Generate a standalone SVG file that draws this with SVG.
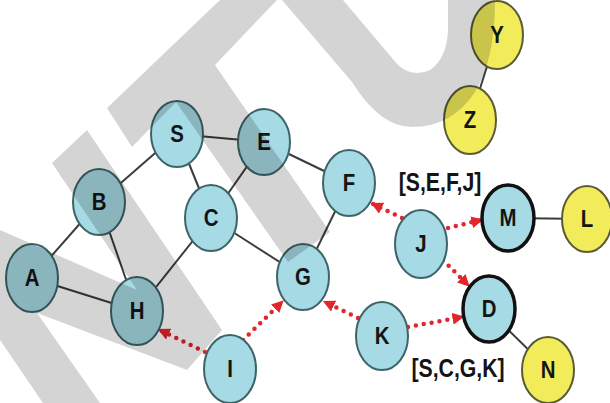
<svg xmlns="http://www.w3.org/2000/svg" width="610" height="403" viewBox="0 0 610 403">
<style>
.edge{stroke:#3c3c3c;stroke-width:2;fill:none}
.arr{stroke:#e3262b;stroke-width:4.5;stroke-linecap:round;stroke-dasharray:0 8;fill:none;marker-end:url(#ah)}
.nb ellipse{fill:#a6dae4;stroke:#3d6468;stroke-width:2}
.nk ellipse{fill:#a6dae4;stroke:#111;stroke-width:3.5}
.ny ellipse{fill:#f2ec5a;stroke:#5a5a38;stroke-width:2}
text{font-family:"Liberation Sans",Arial,sans-serif;font-weight:bold;fill:#141414;text-anchor:middle}
.lbl{font-size:24px}
.path{font-size:25px}
</style>
<defs>
<marker id="ah" viewBox="0 0 10 10" refX="8" refY="5" markerWidth="12" markerHeight="12" markerUnits="userSpaceOnUse" orient="auto">
<path d="M0,0 L10,5 L0,10 z" fill="#e3262b"/>
</marker>
</defs>
<rect width="610" height="403" fill="#fff"/>
<g id="connectors">
<line class="edge" x1="177" y1="134" x2="264" y2="142"/>
<line class="edge" x1="177" y1="134" x2="99" y2="202"/>
<line class="edge" x1="177" y1="134" x2="211" y2="218"/>
<line class="edge" x1="264" y1="142" x2="211" y2="218"/>
<line class="edge" x1="264" y1="142" x2="349" y2="183"/>
<line class="edge" x1="99" y1="202" x2="32" y2="278"/>
<line class="edge" x1="99" y1="202" x2="137" y2="311"/>
<line class="edge" x1="32" y1="278" x2="137" y2="311"/>
<line class="edge" x1="137" y1="311" x2="211" y2="218"/>
<line class="edge" x1="211" y1="218" x2="303" y2="277"/>
<line class="edge" x1="303" y1="277" x2="349" y2="183"/>
<line class="edge" x1="497" y1="35" x2="470" y2="120"/>
<line class="edge" x1="507" y1="218" x2="587" y2="219"/>
<line class="edge" x1="488" y1="310" x2="548" y2="369"/>
<path class="arr" d="M402,218 L373,204"/>
<path class="arr" d="M448,228 L481,220"/>
<path class="arr" d="M443,260 L468,285"/>
<path class="arr" d="M205,352 L160,330"/>
<path class="arr" d="M243,340 L282,302"/>
<path class="arr" d="M358,318 L325,302"/>
<path class="arr" d="M408,327 L462,317"/>
</g>
<g id="node-S" class="nb"><ellipse cx="177" cy="134" rx="26" ry="33"/><text class="lbl" transform="translate(177,142) scale(0.85,1)">S</text></g>
<g id="node-E" class="nb"><ellipse cx="264" cy="142" rx="26" ry="33"/><text class="lbl" transform="translate(264,150) scale(0.85,1)">E</text></g>
<g id="node-B" class="nb"><ellipse cx="99" cy="202" rx="26" ry="33"/><text class="lbl" transform="translate(99,210) scale(0.85,1)">B</text></g>
<g id="node-A" class="nb"><ellipse cx="32" cy="278" rx="26" ry="34"/><text class="lbl" transform="translate(32,286) scale(0.85,1)">A</text></g>
<g id="node-H" class="nb"><ellipse cx="137" cy="311" rx="26" ry="34"/><text class="lbl" transform="translate(137,319) scale(0.85,1)">H</text></g>
<g id="node-C" class="nb"><ellipse cx="211" cy="218" rx="26" ry="33"/><text class="lbl" transform="translate(211,226) scale(0.85,1)">C</text></g>
<g id="node-G" class="nb"><ellipse cx="303" cy="277" rx="26" ry="33"/><text class="lbl" transform="translate(303,285) scale(0.85,1)">G</text></g>
<g id="node-F" class="nb"><ellipse cx="349" cy="183" rx="26" ry="33"/><text class="lbl" transform="translate(349,191) scale(0.85,1)">F</text></g>
<g id="node-I" class="nb"><ellipse cx="230" cy="369" rx="26" ry="34"/><text class="lbl" transform="translate(230,377) scale(0.85,1)">I</text></g>
<g id="node-J" class="nb"><ellipse cx="421" cy="244" rx="26" ry="34"/><text class="lbl" transform="translate(421,252) scale(0.85,1)">J</text></g>
<g id="node-K" class="nb"><ellipse cx="382" cy="336" rx="26" ry="34"/><text class="lbl" transform="translate(382,344) scale(0.85,1)">K</text></g>
<g id="node-D" class="nk"><ellipse cx="489" cy="309" rx="26" ry="33"/><text class="lbl" transform="translate(489,317) scale(0.85,1)">D</text></g>
<g id="node-M" class="nk"><ellipse cx="508" cy="218" rx="26" ry="33"/><text class="lbl" transform="translate(508,226) scale(0.85,1)">M</text></g>
<g id="node-L" class="ny"><ellipse cx="587" cy="219" rx="25" ry="33"/><text class="lbl" transform="translate(587,227) scale(0.85,1)">L</text></g>
<g id="node-N" class="ny"><ellipse cx="548" cy="370" rx="26" ry="33"/><text class="lbl" transform="translate(548,378) scale(0.85,1)">N</text></g>
<g id="node-Y" class="ny"><ellipse cx="497" cy="35" rx="26" ry="34"/><text class="lbl" transform="translate(497,43) scale(0.85,1)">Y</text></g>
<g id="node-Z" class="ny"><ellipse cx="470" cy="120" rx="26" ry="34"/><text class="lbl" transform="translate(470,128) scale(0.85,1)">Z</text></g>
<g id="path-labels">
<text class="path" transform="translate(440,191) scale(0.85,1)">[S,E,F,J]</text>
<text class="path" transform="translate(458,377) scale(0.85,1)">[S,C,G,K]</text>
</g>
<g id="watermark" fill="#000" fill-opacity="0.17">
<polygon points="107,108 220,0 277,0 215,65 330,232 288,262 176,102 132,147"/>
<polygon points="0,230 137,290 52,163 87,130 222,330 187,370 37,313 100,403 43,403 0,340"/>
<path fill-rule="evenodd" d="M282,0 L352,82 Q380,127 412,127 Q452,127 475,92 Q495,60 495,0 Z M343,0 L398,65 Q413,78 430,70 Q447,58 448,30 L448,0 Z"/>
</g>
</svg>
